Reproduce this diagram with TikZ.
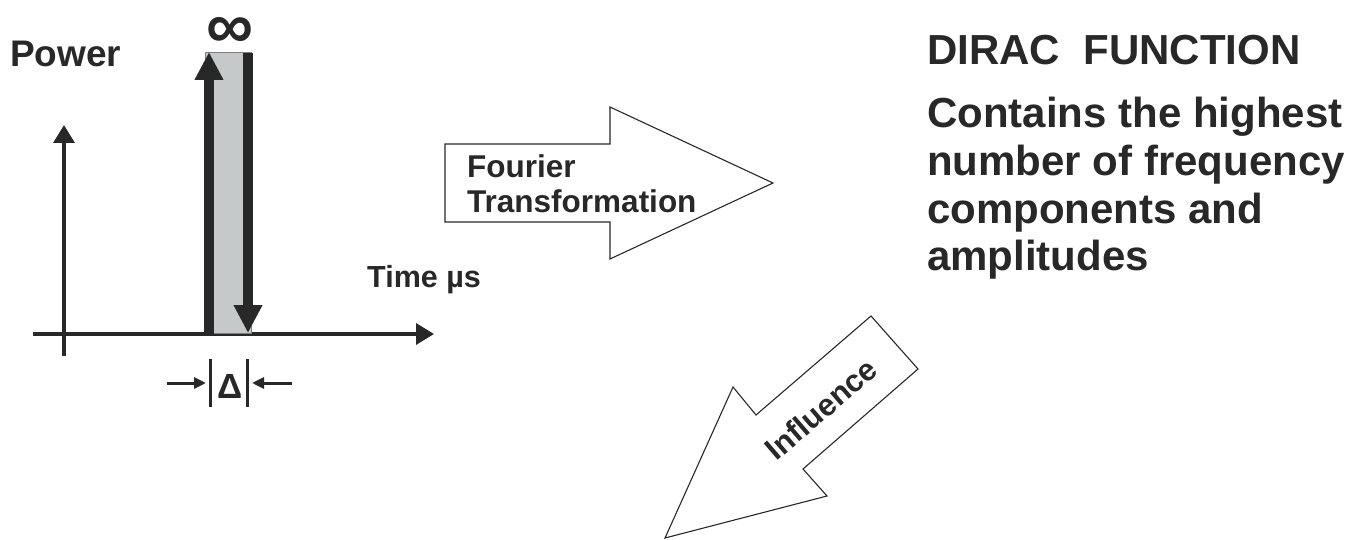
\documentclass[tikz,border=0pt]{standalone}
\usepackage{fontspec}
\setmainfont{Liberation Sans}
\usetikzlibrary{arrows.meta}
\definecolor{ink}{RGB}{40,40,40}
\definecolor{pulse}{RGB}{197,201,201}
\newcommand\setfs[1]{\fontsize{#1}{#1}\selectfont}
\begin{document}
\begin{tikzpicture}[x=1pt,y=-1pt,
  lbl/.style={inner sep=0pt, anchor=base west, text=ink},
  axis/.style={draw=ink, line width=3.5pt, -{Triangle[length=18pt,width=21pt]}},
  spike/.style={draw=ink, line width=10pt, -{Triangle[length=28pt,width=27pt]}},
  gap/.style={draw=ink, line width=3pt},
  gaparrow/.style={draw=ink, line width=3pt, -{Triangle[length=12pt,width=11pt]}},
  bigarrow/.style={draw=ink, line width=1.1pt, fill=white, line join=miter}]
\useasboundingbox (0,0) rectangle (1365,540);

% axes
\coordinate (ox) at (33,334);
\coordinate (tx) at (434,334);
\coordinate (oy) at (64,356);
\coordinate (ty) at (64,125);
\draw[axis] (oy) -- (ty);
\draw[axis] (ox) -- (tx);

% the pulse of width Delta
\fill[pulse, draw=ink!60, line width=0.6pt] (205,52) rectangle (251,333);
\coordinate (up0) at (209,336);
\coordinate (up1) at (209,52);
\coordinate (dn0) at (248,53);
\coordinate (dn1) at (248,333);
\draw[spike] (up0) -- (up1);
\draw[spike] (dn0) -- (dn1);
\node[inner sep=0pt, text=ink, font=\bfseries\setfs{66}] (inf) at (230,33) {∞};

% width marker
\coordinate (la) at (167,383);
\coordinate (lb) at (206,383);
\coordinate (ra) at (292,383);
\coordinate (rb) at (252,383);
\draw[gaparrow] (la) -- (lb);
\draw[gaparrow] (ra) -- (rb);
\coordinate (b1t) at (210,359);
\coordinate (b1b) at (210,407);
\coordinate (b2t) at (247.5,359);
\coordinate (b2b) at (247.5,407);
\draw[gap] (b1t) -- (b1b);
\draw[gap] (b2t) -- (b2b);
\node[inner sep=0pt, text=ink, font=\bfseries\setfs{35}] (delta) at (230.5,386) {Δ};

% axis labels
\node[lbl, font=\bfseries\setfs{37}] (power) at (10,67) {Power};
\node[lbl, font=\bfseries\setfs{30.5}] (time) at (367,287) {Time µs};

% Fourier transformation arrow
\draw[bigarrow] (445,144) -- (610,144) -- (610,107) -- (773,183)
  -- (610,259) -- (610,222) -- (445,222) -- cycle;
\node[lbl, font=\bfseries\setfs{31.5}] (ft1) at (467,178) {Fourier};
\node[lbl, font=\bfseries\setfs{31.5}] (ft2) at (467,212) {Transformation};

% influence arrow
\draw[bigarrow] (871,316) -- (918,369) -- (803,469) -- (827,496)
  -- (665,538) -- (733,387) -- (756,415) -- cycle;
\node[inner sep=0pt, text=ink, font=\bfseries\setfs{31}, rotate=40.7] (infl) at (821,409) {Influence};

% description
\node[lbl, font=\bfseries\setfs{42}] (title) at (927,65) {DIRAC\ \ FUNCTION};
\node[lbl, font=\bfseries\setfs{42}] (d1) at (927,128) {Contains the highest};
\node[lbl, font=\bfseries\setfs{42}] (d2) at (927,176) {number of frequency};
\node[lbl, font=\bfseries\setfs{42}] (d3) at (927,223) {components and};
\node[lbl, font=\bfseries\setfs{42}] (d4) at (927,270) {amplitudes};
\end{tikzpicture}
\end{document}
